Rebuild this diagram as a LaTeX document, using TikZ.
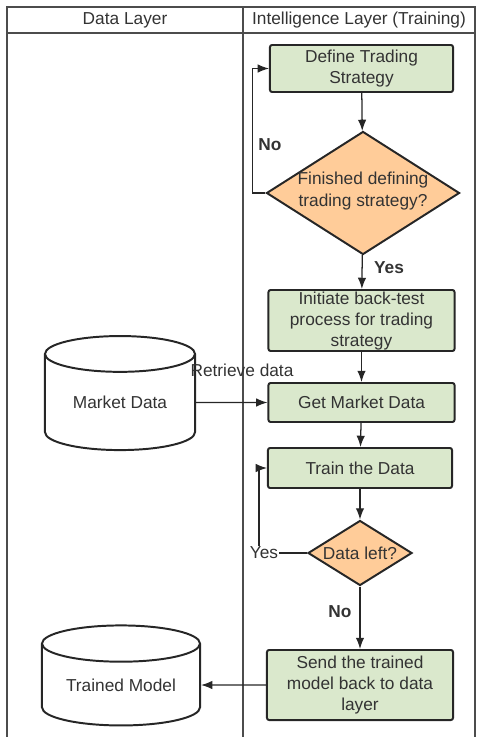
\documentclass[tikz,border=0pt]{standalone}
\usepackage{fontspec}
\setmainfont{Liberation Sans}
\usetikzlibrary{shapes.geometric,arrows.meta}
\definecolor{boxgreen}{HTML}{DAE8CC}
\definecolor{decorange}{HTML}{FFCC99}
\definecolor{txtgrey}{HTML}{333333}

\begin{document}
\begin{tikzpicture}[x=0.025cm, y=-0.025cm,
    every node/.style={font=\fontsize{12.3}{15}\selectfont, text=txtgrey},
    lane/.style={draw=black!70, line width=1pt},
    procbox/.style={draw=black!85, fill=boxgreen, line width=1.4pt, rounded corners=1.5pt, minimum width=4.65cm, inner sep=0pt},
    decision/.style={diamond, draw=black!85, fill=decorange, line width=1.4pt, inner sep=0pt},
    store/.style={cylinder, shape border rotate=90, draw=black!85, line width=1.4pt, aspect=0.38, inner sep=0pt},
    flow/.style={draw=black!85, line width=0.9pt, -{Latex[length=8pt,width=6pt]}}]
\useasboundingbox (0,0) rectangle (478,737);
\draw[lane] (7,737) -- (7,7) -- (475,7) -- (475,737);
\draw[lane] (7,33) -- (475,33);
\draw[lane] (243,7) -- (243,737);
\node (datahead) at (125,20) {Data Layer};
\node (intelhead) at (359,20) {Intelligence Layer (Training)};

\node[procbox, minimum width=4.575cm, minimum height=1.175cm, align=center] (define) at (361.5,68.5) {Define Trading\\Strategy};
\node[decision, minimum width=4.825cm, minimum height=3.075cm] (finished) at (363,193) {};
\node[align=center] (finishedtxt) at (363,191) {Finished defining\\trading strategy?};
\node[procbox, minimum height=1.525cm] (initiate) at (361.5,320.5) {};
\node[align=center] (initiatetxt) at (361.5,321) {Initiate back-test\\process for trading\\strategy};
\node[procbox, minimum height=0.975cm] (getmarket) at (361.5,402.5) {Get Market Data};
\node[procbox, minimum width=4.6cm, minimum height=1cm] (train) at (360,468) {Train the Data};
\node[decision, minimum width=2.6cm, minimum height=1.625cm] (dataleft) at (360,553) {};
\node (dataleftxt) at (360,553) {Data left?};
\node[procbox, minimum width=4.65cm, minimum height=1.75cm, align=center] (send) at (360,685) {Send the trained\\model back to data\\layer};

\node[store, minimum width=3.75cm, minimum height=2.85cm] (market) at (120,402.5) {Market Data};
\node[store, aspect=0.33, minimum width=3.95cm, minimum height=2.5cm] (trained) at (121,685) {Trained Model};

\draw[flow] (define) -- (finished);
\draw[flow] (finished.west) -- ++(-13,0) |- (define.west);
\node (nolbl) at (270,145) {\bfseries No};
\draw[flow] (finished) -- (initiate);
\node (yeslbl) at (389,268) {\bfseries Yes};
\draw[flow] (initiate) -- (getmarket);
\draw[flow] (market.east) -- (getmarket.west);
\node (retrieve) at (242,370) {Retrieve data};
\draw[flow] (getmarket) -- (train);
\draw[flow] (train) -- (dataleft);
\draw[flow] (dataleft.west) -- ++(-48,0) |- (train.west);
\node[fill=white, inner sep=0.5pt] (yesloop) at (264,553) {Yes};
\draw[flow] (dataleft) -- (send);
\node (nolbl2) at (340,612) {\bfseries No};
\draw[flow] (send.west) -- (trained.east);
\end{tikzpicture}
\end{document}
